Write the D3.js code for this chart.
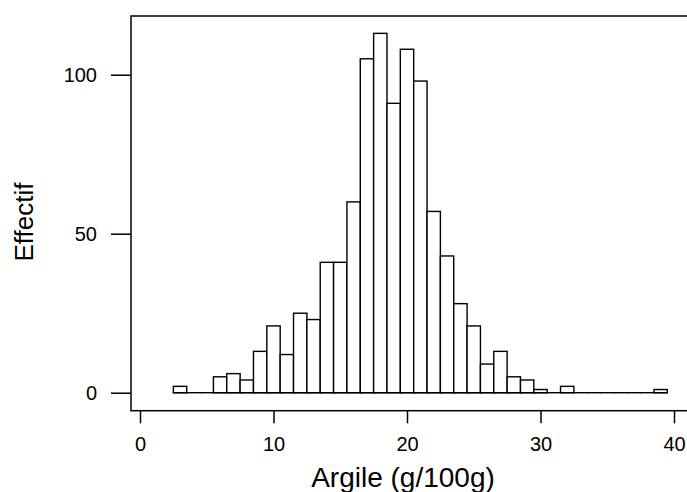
<!DOCTYPE html>
<html>
<head>
<meta charset="utf-8">
<script src="https://cdn.jsdelivr.net/npm/d3@7"></script>
<style>
  body { margin: 0; background: #fff; }
  svg { display: block; }
  text { font-family: "Liberation Sans", Arial, sans-serif; fill: #000; }
</style>
</head>
<body>
<div id="chart"></div>
<script>
// bins of width 1, from 2.5 to 39.5
var binStart = 2.5
var binWidth = 1
var counts = [2, 0, 0, 5, 6, 4, 13, 21, 12, 25, 23, 41, 41, 60, 105, 113, 91, 108,
  98, 57, 43, 28, 21, 9, 13, 5, 4, 1, 0, 2, 0, 0, 0, 0, 0, 0, 1]
var xTicks = [0, 10, 20, 30, 40]
var yTicks = [0, 50, 100]
var xLabel = 'Argile (g/100g)'
var yLabel = 'Effectif'

var W = 687, H = 492

var bins = counts.map(function(c, i) {
  return {x0: binStart + i * binWidth, x1: binStart + (i + 1) * binWidth, n: c}
})

var x = d3.scaleLinear().domain([0, 40]).range([140, 674])
var y = d3.scaleLinear().domain([0, 100]).range([392.7, 74.7])

var svg = d3.select('#chart').append('svg')
  .attr('width', W)
  .attr('height', H)

// plot box (right side runs off the page)
svg.append('rect')
  .attr('x', 131)
  .attr('y', 16)
  .attr('width', 600)
  .attr('height', 394.7)
  .style('fill', 'none')
  .style('stroke', '#000')
  .style('stroke-width', 1.5)

var barG = svg.append('g')

// empty bins still show as a flat line on zero
barG.selectAll('line.zero')
  .data(bins)
  .enter().append('line')
  .attr('class', 'zero')
  .attr('x1', function(d) { return x(d.x0) })
  .attr('x2', function(d) { return x(d.x1) })
  .attr('y1', y(0))
  .attr('y2', y(0))
  .style('stroke', '#000')
  .style('stroke-width', 1.4)
  .style('stroke-linecap', 'square')

barG.selectAll('rect.bar')
  .data(bins.filter(function(d) { return d.n > 0 }))
  .enter().append('rect')
  .attr('class', 'bar')
  .attr('x', function(d) { return x(d.x0) })
  .attr('width', function(d) { return x(d.x1) - x(d.x0) })
  .attr('y', function(d) { return y(d.n) })
  .attr('height', function(d) { return y(0) - y(d.n) })
  .style('fill', '#fff')
  .style('stroke', '#000')
  .style('stroke-width', 1.4)

var xAxis = svg.append('g')
  .attr('transform', 'translate(0,410.7)')
  .call(d3.axisBottom(x).tickValues(xTicks).tickSize(12.6).tickPadding(13.4).tickSizeOuter(0))
xAxis.select('.domain').remove()

var yAxis = svg.append('g')
  .attr('transform', 'translate(131,0)')
  .call(d3.axisLeft(y).tickValues(yTicks).tickSize(20).tickPadding(14).tickSizeOuter(0))
yAxis.select('.domain').remove()

svg.selectAll('.tick line').style('stroke', '#000').style('stroke-width', 1.5)
svg.selectAll('.tick text').style('font-size', '20px').style('font-family', '"Liberation Sans", Arial, sans-serif')

svg.append('text')
  .attr('x', 403)
  .attr('y', 487)
  .attr('text-anchor', 'middle')
  .style('font-size', '28px')
  .text(xLabel)

svg.append('text')
  .attr('transform', 'translate(33,222) rotate(-90)')
  .attr('text-anchor', 'middle')
  .style('font-size', '26px')
  .text(yLabel)
</script>
</body>
</html>
